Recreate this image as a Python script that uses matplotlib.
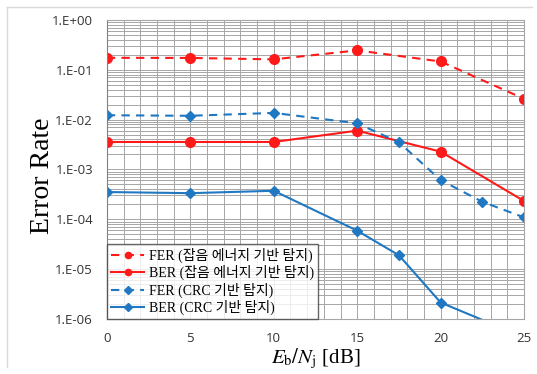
import matplotlib.pyplot as plt
import numpy as np
from matplotlib.ticker import FixedLocator, LogLocator, NullFormatter
from matplotlib.lines import Line2D

plt.rcParams["mathtext.fontset"] = "stix"

# data
x_energy = [0, 5, 10, 15, 20, 25]
fer_energy = [0.173, 0.172, 0.161, 0.244, 0.146, 0.026]
ber_energy = [0.00355, 0.00355, 0.00355, 0.0060, 0.00227, 0.000232]

x_crc = [0, 5, 10, 15, 17.5, 20, 22.5, 25]
fer_crc = [0.0122, 0.0119, 0.0136, 0.0084, 0.0035, 0.00061, 0.000224, 0.000109]
x_crc_ber = [0, 5, 10, 15, 17.5, 20, 25]
ber_crc = [0.000352, 0.000334, 0.000373, 5.9e-5, 1.9e-5, 2.14e-6, 4.3e-7]

labels = ["FER (잡음 에너지 기반 탐지)", "BER (잡음 에너지 기반 탐지)",
          "FER (CRC 기반 탐지)", "BER (CRC 기반 탐지)"]

RED = "#ff1a1a"
BLUE = "#1f78c1"

fig = plt.figure(figsize=(5.37, 3.74), dpi=100)
ax = fig.add_axes([0.199, 0.147, 0.777, 0.80])

ax.plot(x_energy, fer_energy, color=RED, ls=(0, (4, 3)), lw=1.5, marker="o", ms=7, label=labels[0])
ax.plot(x_energy, ber_energy, color=RED, ls="-", lw=1.5, marker="o", ms=7, label=labels[1])
ax.plot(x_crc, fer_crc, color=BLUE, ls=(0, (4, 3)), lw=1.5, marker="D", ms=5.5, label=labels[2])
ax.plot(x_crc_ber, ber_crc, color=BLUE, ls="-", lw=1.5, marker="D", ms=5.5, label=labels[3])

ax.set_yscale("log")
ax.set_ylim(1e-6, 1)
ax.set_xlim(0, 25)
ax.set_yticks([1e-6, 1e-5, 1e-4, 1e-3, 1e-2, 1e-1, 1])
ax.set_yticklabels(["1.E-06", "1.E-05", "1.E-04", "1.E-03", "1.E-02", "1.E-01", "1.E+00"])
ax.yaxis.set_minor_locator(LogLocator(base=10, subs=np.arange(2, 10)))
ax.yaxis.set_minor_formatter(NullFormatter())
ax.set_xticks([0, 5, 10, 15, 20, 25])
ax.xaxis.set_minor_locator(FixedLocator(np.arange(0, 26, 1)))

ax.grid(True, which="both", axis="both", color="#a6a6a6", lw=0.7)
ax.set_axisbelow(True)
ax.tick_params(which="both", length=0, labelsize=9.5, colors="#333333")
ax.tick_params(axis="y", pad=10)
ax.tick_params(axis="x", pad=9)
for lbl in ax.get_xticklabels() + ax.get_yticklabels():
    lbl.set_fontfamily("Open Sans")
for s in ax.spines.values():
    s.set_color("#a6a6a6")
    s.set_linewidth(0.8)
ax.spines["left"].set_color("#808080")

ax.set_ylabel("Error Rate", fontsize=20, family="Liberation Serif")
ax.yaxis.set_label_coords(-0.125, 0.48)
ax.set_xlabel(r"$E_{\mathrm{b}}/N_{\mathrm{j}}$ [dB]", fontsize=15, family="Liberation Serif", labelpad=2)

leg = ax.legend(loc="lower left", borderaxespad=0, frameon=True, fancybox=False,
                edgecolor="#404040", handlelength=2.4, handletextpad=0.3,
                labelspacing=0.15, borderpad=0.3,
                prop={"family": ["Liberation Serif", "Noto Sans CJK KR"], "size": 10})
leg.get_frame().set_linewidth(1.0)
for h in leg.legend_handles:
    h.set_markersize(4.5)

# light outer frame like the source image
fig.add_artist(Line2D([0.013, 0.99], [0.981, 0.981], transform=fig.transFigure, color="#d9d9d9", lw=1))
fig.add_artist(Line2D([0.013, 0.013], [0.02, 0.981], transform=fig.transFigure, color="#d9d9d9", lw=1))

fig.savefig("out.png", dpi=100)
